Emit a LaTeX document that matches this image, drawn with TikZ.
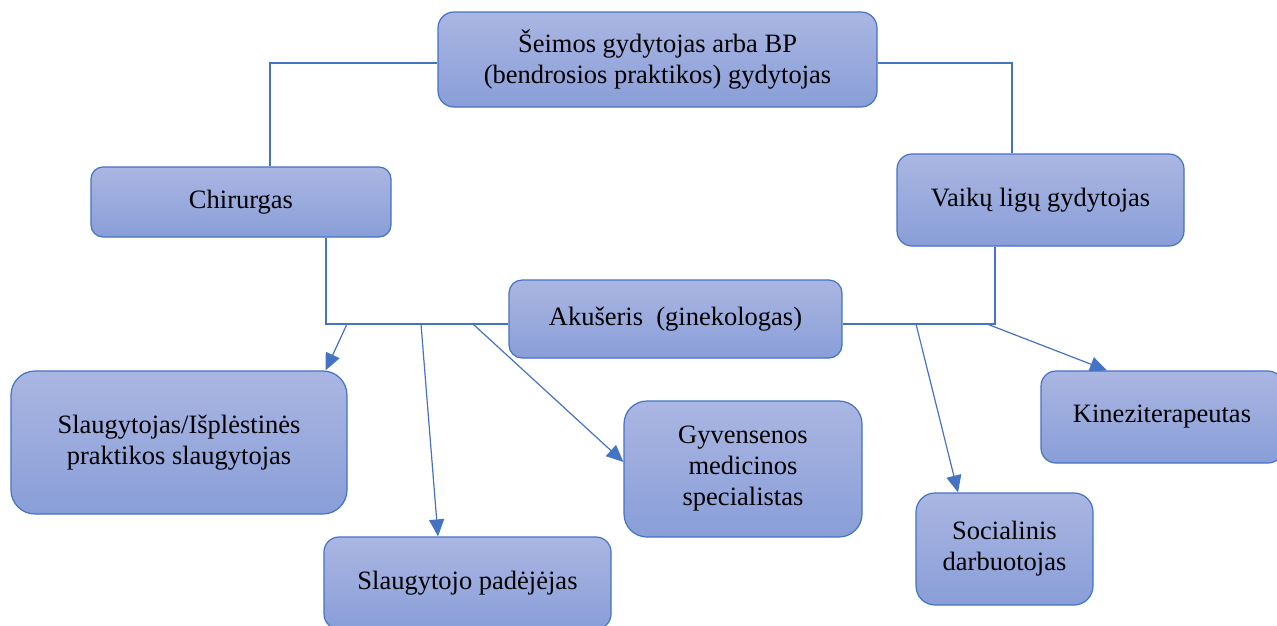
\documentclass[tikz,border=0pt]{standalone}
\usepackage{fontspec}
\setmainfont{Liberation Serif}
\usetikzlibrary{arrows.meta,backgrounds}
\definecolor{edgeblue}{RGB}{68,114,196}
\definecolor{filltop}{RGB}{170,182,226}
\definecolor{fillbot}{RGB}{137,158,216}
\tikzset{
  box/.style={draw=edgeblue, line width=1.2pt, top color=filltop, bottom color=fillbot,
    align=center, inner sep=0pt, text=black,
    font=\fontsize{26.5}{31}\selectfont},
  link/.style={draw=edgeblue, line width=1.2pt},
  arrowlink/.style={link, -{Triangle[length=17pt,width=15pt]}}
}
\begin{document}
\begin{tikzpicture}[x=1pt,y=-1pt]
\useasboundingbox (0,0) rectangle (1277,625);

% role boxes
\node[box, minimum width=439pt, minimum height=95pt, rounded corners=16pt] (top) at (657.5,59.5)
  {Šeimos gydytojas arba BP\\(bendrosios praktikos) gydytojas};
\node[box, minimum width=300pt, minimum height=70pt, rounded corners=12pt] (chir) at (241,202) {Chirurgas};
\node[box, minimum width=287pt, minimum height=92pt, rounded corners=15pt] (vaik) at (1040.5,200) {Vaikų ligų gydytojas};
\node[box, minimum width=333pt, minimum height=78pt, rounded corners=13pt] (aku) at (675.5,319) {Akušeris\ \ (ginekologas)};
\node[box, minimum width=336pt, minimum height=143pt, rounded corners=24pt] (slaug) at (179,442.5)
  {Slaugytojas/Išplėstinės\\praktikos slaugytojas};
\node[box, minimum width=287pt, minimum height=92pt, rounded corners=15pt] (pad) at (467.5,583) {Slaugytojo padėjėjas};
\node[box, minimum width=238pt, minimum height=136pt, rounded corners=23pt] (gyv) at (743,469)
  {Gyvensenos\\medicinos\\specialistas};
\node[box, minimum width=177pt, minimum height=112pt, rounded corners=19pt] (soc) at (1004.5,549)
  {Socialinis\\darbuotojas};
\node[box, minimum width=242pt, minimum height=92pt, rounded corners=15pt] (kin) at (1162,417) {Kineziterapeutas};

% points on the lower connecting line
\coordinate (b1) at (347,324);
\coordinate (b2) at (421,324);
\coordinate (b3) at (473,324);
\coordinate (b4) at (916,324);
\coordinate (b5) at (987,324);

\begin{pgfonlayer}{background}
  % upper frame
  \draw[link] ([yshift=-3.5pt]top.west) -| ([xshift=29pt]chir.north);
  \draw[link] ([yshift=-3.5pt]top.east) -| ([xshift=-28.5pt]vaik.north);
  % lower frame
  \draw[link] ([xshift=85pt]chir.south) |- ([yshift=-5pt]aku.west);
  \draw[link] ([xshift=-45.5pt]vaik.south) |- ([yshift=-5pt]aku.east);
  % arrows to the team members
  \draw[arrowlink] (b1) -- ([xshift=-22pt]slaug.north east);
  \draw[arrowlink] (b2) -- ([xshift=-29.5pt]pad.north);
  \draw[arrowlink] (b3) -- ([yshift=7pt]gyv.west);
  \draw[arrowlink] (b4) -- ([xshift=-46.5pt]soc.north);
  \draw[arrowlink] (b5) -- ([xshift=-55pt]kin.north);
\end{pgfonlayer}
\end{tikzpicture}
\end{document}
